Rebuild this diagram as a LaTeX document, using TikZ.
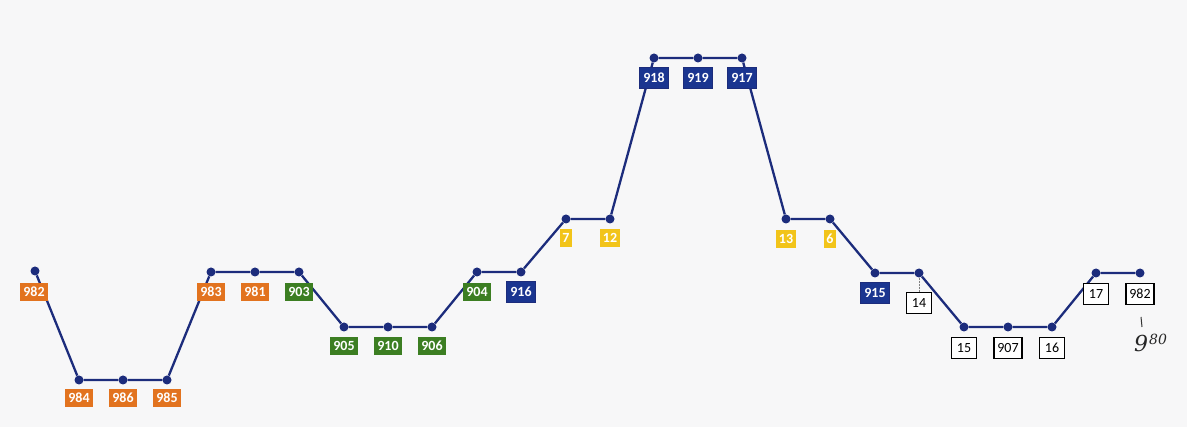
\documentclass[tikz,border=0pt]{standalone}
\usepackage{fontspec}
\setmainfont{Carlito}
\newfontfamily\handfont{DejaVu Serif}
\definecolor{bgc}{HTML}{F7F7F8}
\definecolor{navy}{HTML}{1C2C7C}
\definecolor{orgc}{HTML}{E2731F}
\definecolor{grnc}{HTML}{3C7E22}
\definecolor{bluc}{HTML}{1A3590}
\definecolor{ylwc}{HTML}{F2C41A}
\begin{document}
\begin{tikzpicture}[x=1pt,y=-1pt,
  pt/.style={circle,fill=navy,inner sep=0pt,minimum size=9},
  conn/.style={draw=navy,line width=2.3pt},
  lab/.style={font=\bfseries\fontsize{14}{14}\selectfont,text=white,inner xsep=3,inner ysep=0,minimum height=18},
  orgbox/.style={lab,fill=orgc},
  grnbox/.style={lab,fill=grnc},
  ylwbox/.style={lab,fill=ylwc,inner xsep=2.5,minimum height=18},
  blubox/.style={lab,fill=bluc,draw=navy,line width=0.8pt,minimum height=21,inner xsep=4},
  wbox/.style={font=\fontsize{14}{14}\selectfont,text=black,fill=white,draw=black,line width=1.4pt,minimum height=21,minimum width=25,inner xsep=3.5,inner ysep=0}]
\useasboundingbox (0,0) rectangle (1187,427);
\fill[bgc] (0,0) rectangle (1187,427);
% dots
\node[pt] (a982) at (35,271) {};
\node[pt] (a984) at (79,380) {};
\node[pt] (a986) at (123,380) {};
\node[pt] (a985) at (167,380) {};
\node[pt] (a983) at (211,272) {};
\node[pt] (a981) at (255,272) {};
\node[pt] (a903) at (299,272) {};
\node[pt] (a905) at (344,327) {};
\node[pt] (a910) at (388,327) {};
\node[pt] (a906) at (432,327) {};
\node[pt] (a904) at (477,272) {};
\node[pt] (a916) at (521,272) {};
\node[pt] (a7) at (566,219) {};
\node[pt] (a12) at (610,219) {};
\node[pt] (a918) at (654,58) {};
\node[pt] (a919) at (698,58) {};
\node[pt] (a917) at (742,58) {};
\node[pt] (a13) at (786,219) {};
\node[pt] (a6) at (830,219) {};
\node[pt] (a915) at (875,273) {};
\node[pt] (a14) at (919,273) {};
\node[pt] (a15) at (964,327) {};
\node[pt] (a907) at (1008,327) {};
\node[pt] (a16) at (1052,327) {};
\node[pt] (a17) at (1096,273) {};
\node[pt] (b982) at (1140,273) {};
% connectors
\draw[conn] (a982) -- (a984) -- (a986) -- (a985) -- (a983) -- (a981) -- (a903)
  -- (a905) -- (a910) -- (a906) -- (a904) -- (a916) -- (a7) -- (a12)
  -- (a918) -- (a919) -- (a917) -- (a13) -- (a6) -- (a915) -- (a14)
  -- (a15) -- (a907) -- (a16) -- (a17) -- (b982);
% labels
\node[orgbox] (l982) at (34,292) {982};
\node[orgbox] (l984) at (79,398) {984};
\node[orgbox] (l986) at (123,398) {986};
\node[orgbox] (l985) at (167,398) {985};
\node[orgbox] (l983) at (211,292) {983};
\node[orgbox] (l981) at (255,292) {981};
\node[grnbox] (l903) at (299,292) {903};
\node[grnbox] (l905) at (344,346) {905};
\node[grnbox] (l910) at (388,346) {910};
\node[grnbox] (l906) at (432,346) {906};
\node[grnbox] (l904) at (477,292) {904};
\node[blubox] (l916) at (521,292) {916};
\node[ylwbox] (l7) at (566,238) {7};
\node[ylwbox] (l12) at (610,238) {12};
\node[blubox] (l918) at (654,78) {918};
\node[blubox] (l919) at (698,78) {919};
\node[blubox] (l917) at (742,78) {917};
\node[ylwbox] (l13) at (786,239) {13};
\node[ylwbox] (l6) at (830,239) {6};
\node[blubox] (l915) at (875,293) {915};
\node[wbox] (l14) at (919,303) {14};
\draw[gray,line width=0.5pt,densely dotted] (a14) -- (l14);
\node[wbox] (l15) at (964,348) {15};
\node[wbox] (l907) at (1008,348) {907};
\node[wbox] (l16) at (1052,348) {16};
\node[wbox] (l17) at (1096,294) {17};
\node[wbox] (l982b) at (1140,294) {982};
% handwritten note
\coordinate (t1) at (1141,317);
\coordinate (t2) at (1142,327);
\draw[black!80,line width=1pt] (t1) -- (t2);
\node[font=\handfont\itshape\fontsize{22}{22}\selectfont,text=black!85,inner sep=0] (h9) at (1141,343) {9};
\node[font=\handfont\itshape\fontsize{14}{14}\selectfont,text=black!85,inner sep=0,anchor=west] (h80) at (1149,339) {80};
\end{tikzpicture}
\end{document}
